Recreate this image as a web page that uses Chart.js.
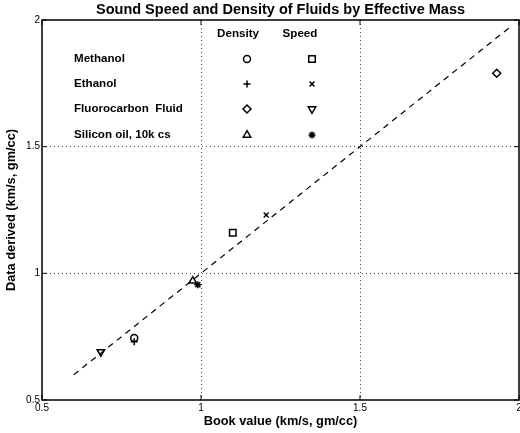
<!DOCTYPE html>
<html>
<head>
<meta charset="utf-8">
<script src="https://cdn.jsdelivr.net/npm/chart.js@4/dist/chart.umd.min.js"></script>
<style>
  body { margin: 0; background: #fff; }
  canvas { display: block; }
</style>
</head>
<body>
<canvas id="chart" width="520" height="433"></canvas>
<script>
// Values (book value vs data derived)
const fluids = ["Methanol", "Ethanol", "Fluorocarbon  Fluid", "Silicon oil, 10k cs"];
const densityBook    = [0.79, 0.79, 1.93, 0.974];
const densityDerived = [0.745, 0.73, 1.79, 0.97];
const speedBook      = [1.10, 1.205, 0.685, 0.99];
const speedDerived   = [1.16, 1.23, 0.69, 0.955];
const fitLine = [0.6, 1.97];          // y = x reference line
const axisTicks = [0.5, 1, 1.5, 2];

// marker styles per fluid
const densityMarks = [
  {style: "circle", r: 3.5, rot: 0},
  {style: "cross", r: 3.5, rot: 0},
  {style: "rectRot", r: 4, rot: 0},
  {style: "triangle", r: 4.3, rot: 0}
];
const speedMarks = [
  {style: "rect", r: 4.6, rot: 0},
  {style: "crossRot", r: 3.5, rot: 0},
  {style: "triangle", r: 4.3, rot: 180},
  {style: "star", r: 3.5, rot: 0}
];

const FONT = "'Liberation Sans', Arial, Helvetica, sans-serif";

const datasets = [];
fluids.forEach((f, i) => {
  datasets.push({
    label: f + " density",
    data: [{x: densityBook[i], y: densityDerived[i]}],
    pointStyle: densityMarks[i].style, pointRadius: densityMarks[i].r,
    rotation: densityMarks[i].rot,
    borderColor: "#000", backgroundColor: "rgba(0,0,0,0)", borderWidth: 1.5
  });
  datasets.push({
    label: f + " speed",
    data: [{x: speedBook[i], y: speedDerived[i]}],
    pointStyle: speedMarks[i].style, pointRadius: speedMarks[i].r,
    rotation: speedMarks[i].rot,
    borderColor: "#000", backgroundColor: "rgba(0,0,0,0)", borderWidth: 1.5
  });
});
datasets.push({
  label: "fit",
  data: fitLine.map(v => ({x: v, y: v})),
  showLine: true, pointRadius: 0, borderColor: "#000", borderWidth: 1.2,
  borderDash: [6, 5]
});

function drawMark(ctx, m, x, y) {
  if (Chart.helpers && Chart.helpers.drawPoint) {
    ctx.save();
    ctx.strokeStyle = "#000";
    ctx.fillStyle = "rgba(0,0,0,0)";
    ctx.lineWidth = 1.5;
    Chart.helpers.drawPoint(ctx, {pointStyle: m.style, radius: m.r, rotation: m.rot, borderWidth: 1.5}, x, y);
    ctx.restore();
  }
}

// frame, inward ticks and the in-plot key
const framePlugin = {
  id: "frame",
  afterDraw(chart) {
    const {ctx, chartArea: a, scales} = chart;
    ctx.save();
    ctx.strokeStyle = "#000";
    ctx.lineWidth = 1.5;
    ctx.strokeRect(a.left, a.top, a.right - a.left, a.bottom - a.top);
    ctx.lineWidth = 1;
    ctx.beginPath();
    axisTicks.forEach(v => {
      const px = scales.x.getPixelForValue(v);
      ctx.moveTo(px, a.bottom); ctx.lineTo(px, a.bottom - 5);
      ctx.moveTo(px, a.top); ctx.lineTo(px, a.top + 5);
      const py = scales.y.getPixelForValue(v);
      ctx.moveTo(a.left, py); ctx.lineTo(a.left + 5, py);
      ctx.moveTo(a.right, py); ctx.lineTo(a.right - 5, py);
    });
    ctx.stroke();

    // key
    ctx.fillStyle = "#000";
    ctx.font = "bold 11.6px " + FONT;
    ctx.textBaseline = "middle";
    ctx.textAlign = "center";
    ctx.fillText("Density", 238, 34);
    ctx.fillText("Speed", 300, 34);
    const rows = [59, 84, 109, 135];
    fluids.forEach((f, i) => {
      ctx.textAlign = "left";
      ctx.fillText(f, 74, rows[i]);
      drawMark(ctx, densityMarks[i], 247, rows[i]);
      drawMark(ctx, speedMarks[i], 312, rows[i]);
    });
    ctx.restore();
  }
};

const gridColor = ctx => (ctx.tick && (ctx.tick.value === 1 || ctx.tick.value === 1.5)) ? "rgba(0,0,0,0.7)" : "rgba(0,0,0,0)";
const tickLabel = v => String(v);

new Chart(document.getElementById("chart"), {
  type: "scatter",
  data: {datasets},
  options: {
    responsive: false,
    animation: false,
    layout: {autoPadding: false, padding: {left: 0, right: 1, top: 0, bottom: 0}},
    plugins: {
      legend: {display: false},
      tooltip: {enabled: false},
      title: {
        display: true,
        text: "Sound Speed and Density of Fluids by Effective Mass",
        color: "#000",
        fullSize: false,
        font: {family: FONT, size: 14.5, weight: "bold", lineHeight: 1.2},
        padding: {top: 1, bottom: 1.6}
      }
    },
    scales: {
      x: {
        type: "linear", min: 0.5, max: 2,
        ticks: {stepSize: 0.5, color: "#000", padding: 2, maxRotation: 0,
                callback: tickLabel, font: {family: FONT, size: 10}},
        grid: {color: gridColor, lineWidth: 1, drawTicks: false},
        border: {display: false, dash: [1, 3]},
        title: {display: true, text: "Book value (km/s, gm/cc)", color: "#000",
                font: {family: FONT, size: 12.8, weight: "bold"}, padding: {top: 0, bottom: 3.5}},
        afterFit(s) { s.height = 33; s.paddingLeft = 0; s.paddingRight = 0; }
      },
      y: {
        type: "linear", min: 0.5, max: 2,
        ticks: {stepSize: 0.5, color: "#000", padding: 2,
                callback: tickLabel, font: {family: FONT, size: 10}},
        grid: {color: gridColor, lineWidth: 1, drawTicks: false},
        border: {display: false, dash: [1, 3]},
        title: {display: true, text: "Data derived (km/s, gm/cc)", color: "#000",
                font: {family: FONT, size: 12.8, weight: "bold"}, padding: {top: 4, bottom: 0}},
        afterFit(s) { s.width = 42; s.paddingTop = 0; s.paddingBottom = 0; }
      }
    }
  },
  plugins: [framePlugin]
});
</script>
</body>
</html>
